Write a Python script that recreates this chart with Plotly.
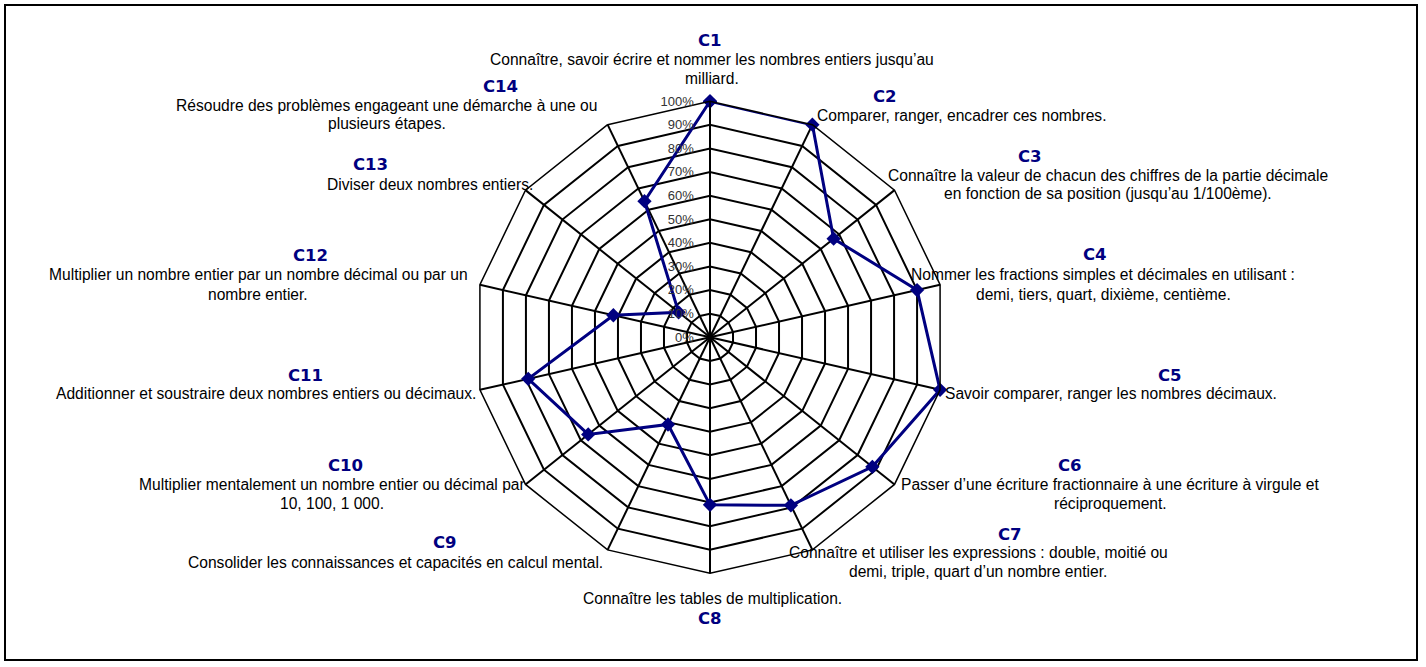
import plotly.graph_objects as go

W, H = 1426, 667

codes = ["C1", "C2", "C3", "C4", "C5", "C6", "C7", "C8", "C9", "C10", "C11", "C12", "C13", "C14"]
values = [1.00, 1.00, 0.67, 0.90, 1.00, 0.88, 0.79, 0.71, 0.41, 0.66, 0.79, 0.42, 0.17, 0.64]
descriptions = [
    ["Connaître, savoir écrire et nommer les nombres entiers jusqu\u2019au", "milliard."],
    ["Comparer, ranger, encadrer ces nombres."],
    ["Connaître la valeur de chacun des chiffres de la partie décimale", "en fonction de sa position (jusqu\u2019au 1/100ème)."],
    ["Nommer les fractions simples et décimales en utilisant :", "demi, tiers, quart, dixième, centième."],
    ["Savoir comparer, ranger les nombres décimaux."],
    ["Passer d\u2019une écriture fractionnaire à une écriture à virgule et", "réciproquement."],
    ["Connaître et utiliser les expressions : double, moitié ou", "demi, triple, quart d\u2019un nombre entier."],
    ["Connaître les tables de multiplication."],
    ["Consolider les connaissances et capacités en calcul mental."],
    ["Multiplier mentalement un nombre entier ou décimal par", "10, 100, 1 000."],
    ["Additionner et soustraire deux nombres entiers ou décimaux."],
    ["Multiplier un nombre entier par un nombre décimal ou par un", "nombre entier."],
    ["Diviser deux nombres entiers."],
    ["Résoudre des problèmes engageant une démarche à une ou", "plusieurs étapes."],
]
radial_ticks = [i / 10 for i in range(11)]
radial_tick_labels = [f"{i * 10}%\u00a0\u00a0\u00a0" for i in range(11)]

# label layout (pixel positions): code position, description first-line position, anchor
code_pos = [(710, 40), (885, 97), (1030, 156), (1095, 254), (1170, 375), (1070, 465), (1010, 534),
            (710, 618), (445, 542), (345, 465), (305, 375), (310, 255), (370, 164), (500, 86)]
desc_pos = [(712, 59, "center"), (815, 115, "left"), (1108, 175, "center"), (1103, 275, "center"),
            (943, 393, "left"), (1110, 484, "center"), (978, 552, "center"), (712, 598, "center"),
            (605, 562, "right"), (332, 484, "center"), (478, 393, "right"), (258, 275, "center"),
            (535, 184, "right"), (387, 105, "center")]
LINE = 19

cx, cy, R = 710, 337.3, 236

fig = go.Figure()
fig.add_trace(go.Scatterpolar(
    r=values + values[:1],
    theta=codes + codes[:1],
    mode="lines+markers",
    line=dict(color="#000080", width=3),
    marker=dict(symbol="diamond", size=11, color="#000080"),
    showlegend=False,
))

annotations = []
for code, (x, y) in zip(codes, code_pos):
    annotations.append(dict(x=x / W, y=1 - y / H, xref="paper", yref="paper", text=f"<b>{code}</b>",
                            showarrow=False, xanchor="center", yanchor="middle",
                            font=dict(family="DejaVu Sans", size=16.5, color="#000080")))
for lines, (x, y, anc) in zip(descriptions, desc_pos):
    for k, line in enumerate(lines):
        annotations.append(dict(x=x / W, y=1 - (y + k * LINE) / H, xref="paper", yref="paper", text=line,
                                showarrow=False, xanchor=anc, yanchor="middle",
                                font=dict(family="Liberation Sans", size=15.6, color="black")))

fig.update_layout(
    width=W, height=H,
    margin=dict(l=0, r=0, t=0, b=0),
    paper_bgcolor="white",
    plot_bgcolor="white",
    annotations=annotations,
    shapes=[dict(type="rect", xref="paper", yref="paper", x0=5 / W, x1=1417 / W, y0=1 - 660 / H, y1=1 - 5 / H,
                 line=dict(color="black", width=2))],
    polar=dict(
        domain=dict(x=[(cx - R) / W, (cx + R) / W], y=[(H - cy - R) / H, (H - cy + R) / H]),
        bgcolor="white",
        gridshape="linear",
        angularaxis=dict(direction="clockwise", rotation=90, showticklabels=False, ticks="",
                         gridcolor="black", gridwidth=1.5, linecolor="black", linewidth=1.5,
                         categoryorder="array", categoryarray=codes),
        radialaxis=dict(range=[0, 1], tickvals=radial_ticks, ticktext=radial_tick_labels,
                        angle=90, tickangle=90, side="counterclockwise", ticks="",
                        showline=True, linecolor="black", linewidth=1.5,
                        gridcolor="black", gridwidth=1.5,
                        tickfont=dict(family="Liberation Sans", size=13, color="#333333")),
    ),
    font=dict(family="Liberation Sans"),
)

fig.write_html("out.html", config={"displayModeBar": False},
               post_script="document.body.style.margin='0';")
